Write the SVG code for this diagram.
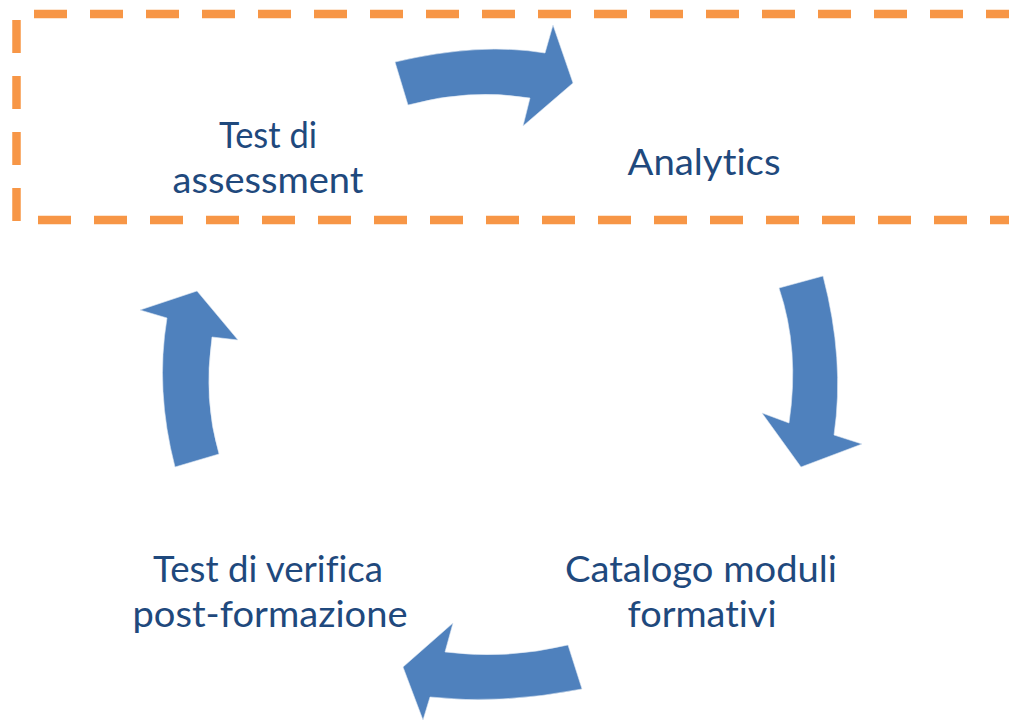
<svg xmlns="http://www.w3.org/2000/svg" width="1009" height="723" viewBox="0 0 1009 723">
<style>
.frame{fill:none;stroke:#F79646;stroke-width:8.5;stroke-dasharray:33 23}
.arrow{fill:#4F81BD;stroke:#DCE6F2;stroke-width:0.6}
.lbl{font-family:Lato,"Liberation Sans",sans-serif;font-size:36px;fill:#1F497D;text-anchor:middle;font-variant-ligatures:none;font-feature-settings:"liga" 0}
</style>
<rect width="1009" height="723" fill="#FFFFFF"/>
<g id="frame">
<path class="frame" d="M34,14 H1040"/>
<path class="frame" d="M16.5,20 V240"/>
<path class="frame" d="M38,220 H1040"/>
</g>
<g id="connectors">
<path class="arrow" d="M395,62 Q480,42 545,53 L553,25 L573,83 L523,126 L530,98 Q470,88 408,105 Z"/>
<path class="arrow" d="M779,288 L823,276 Q845,360 834,435 L862,444 L801,467 L762,413 L789,423 Q800,350 779,288 Z"/>
<path class="arrow" d="M568,645 L582,689 Q500,705 430,697 L423,720 L403,667 L453,623 L445,652 Q505,660 568,645 Z"/>
<path class="arrow" d="M175,467 L219,454 Q203,400 212,337 L238,340 L197,291 L140,310 L167,318 Q155,390 175,467 Z"/>
</g>
<g id="node-assessment">
<text class="lbl" x="268" y="148" textLength="98" lengthAdjust="spacingAndGlyphs">Test di</text>
<text class="lbl" x="268" y="193" textLength="191" lengthAdjust="spacingAndGlyphs">assessment</text>
</g>
<g id="node-analytics">
<text class="lbl" x="704" y="175" textLength="153" lengthAdjust="spacingAndGlyphs">Analytics</text>
</g>
<g id="node-catalogo">
<text class="lbl" x="701" y="582" textLength="272" lengthAdjust="spacingAndGlyphs">Catalogo moduli</text>
<text class="lbl" x="702" y="627" textLength="149" lengthAdjust="spacingAndGlyphs">formativi</text>
</g>
<g id="node-verifica">
<text class="lbl" x="268" y="582" textLength="230" lengthAdjust="spacingAndGlyphs">Test di verifica</text>
<text class="lbl" x="270" y="627" textLength="275" lengthAdjust="spacingAndGlyphs">post-formazione</text>
</g>
</svg>
